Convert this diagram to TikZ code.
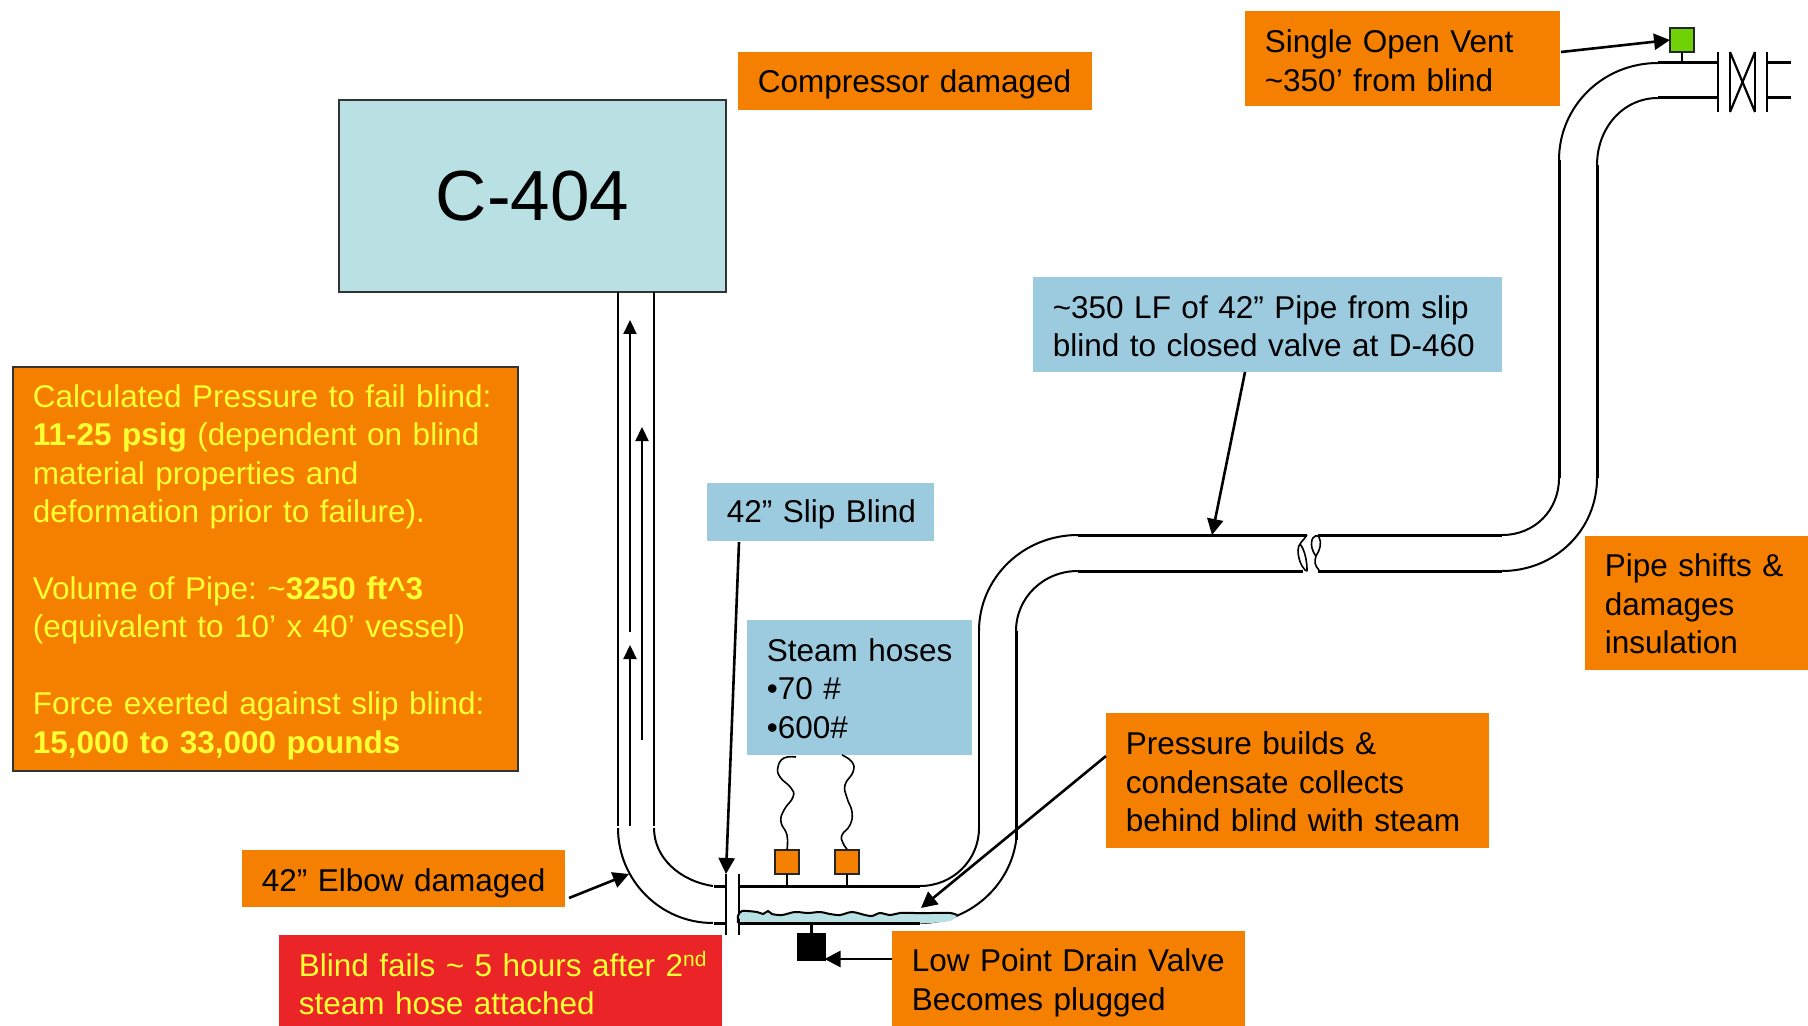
\documentclass[tikz,border=0pt]{standalone}
\usepackage{fontspec}
\setmainfont{Liberation Sans}
\usetikzlibrary{arrows.meta,calc}
\definecolor{oran}{HTML}{F58000}
\definecolor{skyb}{HTML}{9CCBE0}
\definecolor{teal2}{HTML}{B9E0E3}
\definecolor{redb}{HTML}{EB2427}
\definecolor{yell}{HTML}{FFFF33}
\definecolor{gree}{HTML}{6FD207}
\newcommand{\toppad}[1]{\rule{0pt}{#1pt}}
\tikzset{
  lbl/.style={inner xsep=0pt,inner ysep=0pt,outer sep=0pt,anchor=north west,
     font=\fontsize{15.75}{19.2}\selectfont,
     execute at begin node={\frenchspacing\raggedright\leftskip=9.9pt\relax\rightskip=0pt plus 1fil\relax\hyphenpenalty=10000\relax}},
  obox/.style={lbl,fill=oran},
  bbox/.style={lbl,fill=skyb},
  rbox/.style={lbl,fill=redb,text=yell},
  pipe/.style={line width=1pt,black},
  pipeh/.style={line width=1.5pt,black},
  thinp/.style={line width=1.1pt,black},
  arr/.style={line width=1.3pt,black,-{Triangle[length=8pt,width=8pt]}},
  arrs/.style={line width=1.1pt,black,-{Triangle[length=7pt,width=6.5pt]}},
  hose/.style={line width=0.8pt,black},
  sq/.style={draw=black!85,line width=1.2pt,inner sep=0pt,outer sep=0pt,minimum size=12pt,anchor=north west},
}
\newcommand{\bx}[7]{%
  \pgfmathsetmacro\bw{(#4-#2)*0.5}%
  \pgfmathsetmacro\bh{(#5-#3)*0.5}%
  \node[#6,minimum height=\bh pt,text width=\bw pt] (#1) at (#2,#3) {#7};%
}
\begin{document}
\begin{tikzpicture}[x=0.5pt,y=-0.5pt]
\useasboundingbox (0,0) rectangle (1808,1026);
% boxes
\node[draw=black!80,line width=1pt,fill=teal2,minimum width=193.5pt,minimum height=96pt,outer sep=0pt,anchor=north west,font=\fontsize{35.5}{40}\selectfont] (comp) at (339,100) {\raisebox{-2pt}{C-404}};
\bx{cdam}{738}{52}{1092}{110}{obox}{\toppad{15}Compressor damaged}
\bx{vent}{1245}{11}{1560}{106}{obox}{\toppad{13.5}Single Open Vent\\\textasciitilde350’ from blind}
\bx{lf}{1033}{277}{1502}{372}{bbox}{\toppad{13}\textasciitilde350 LF of 42” Pipe from slip\\blind to closed valve at D-460}
\bx{slip}{707}{483}{934}{541}{bbox}{\toppad{14}42” Slip Blind}
\bx{steam}{747}{620}{972}{755}{bbox}{\toppad{12.6}Steam hoses\\•70 \#\\•600\#}
\bx{calc}{13}{367}{518}{771}{obox,draw=black!80,line width=1pt,text=yell}{\toppad{14.5}Calculated Pressure to fail blind:\\\textbf{11-25 psig} (dependent on blind\\material properties and\\deformation prior to failure).\\[19.2pt]Volume of Pipe: \textasciitilde\textbf{3250 ft\textasciicircum3}\\(equivalent to 10’ x 40’ vessel)\\[19.2pt]Force exerted against slip blind:\\\textbf{15,000 to 33,000 pounds}}
\bx{elb}{242}{850}{565}{907}{obox}{\toppad{16}42” Elbow damaged}
\bx{fail}{279}{935}{722}{1026}{rbox}{\toppad{15}Blind fails \textasciitilde{} 5 hours after 2\raisebox{0.6ex}{\fontsize{10.5}{12}\selectfont nd}\\steam hose attached}
\bx{low}{892}{931}{1245}{1026}{obox}{\toppad{15.6}Low Point Drain Valve\\Becomes plugged}
\bx{press}{1106}{713}{1489}{848}{obox}{\toppad{13}Pressure builds \&\\condensate collects\\behind blind with steam}
\bx{shift}{1585}{536}{1808}{670}{obox}{\toppad{12.4}Pipe shifts \&\\damages\\insulation}
% small squares
\node[sq,fill=gree] (vs) at (1670,28) {};
\node[sq,fill=oran] (h1) at (775,850) {};
\node[sq,fill=oran] (h2) at (835,850) {};
\node[sq,fill=black,draw=black,minimum size=13pt] (dr) at (798.5,934) {};
% coordinates
\coordinate (b1t) at (726,874); \coordinate (b1b) at (726,935);
\coordinate (b2t) at (739,874); \coordinate (b2b) at (739,935);
\coordinate (wat) at (921,908);
% left riser
\draw[thinp] (618,292) -- (618,826);
\draw[thinp] (654,292) -- (654,826);
\draw[pipe] (618,828) .. controls (618,880) and (660,923) .. (713,923);
\draw[pipe] (654,828) .. controls (654,858) and (680,881) .. (713,886);
\draw[pipeh] (714,886) -- (726,886) (714,923) -- (726,923);
% blind
\draw[thinp] (b1t) -- (b1b);
\draw[thinp] (b2t) -- (b2b);
% bottom run
\draw[pipeh] (739,886) -- (920,886);
\draw[pipeh] (739,923) -- (920,923);
\draw[pipe] (920,886) .. controls (953,886) and (979,860) .. (979,828);
\draw[pipe] (920,923) .. controls (973,923) and (1017,880) .. (1017,828);
\draw[pipe] (979,828) -- (979,631);
\draw[pipeh] (1016,840) -- (1016,631);
% middle elbow
\draw[pipe] (979,631) .. controls (979,578) and (1023,535) .. (1078,535);
\draw[pipe] (1016,631) .. controls (1016,598) and (1043,571) .. (1078,571);
\draw[pipeh] (1078,535) -- (1307,535);
\draw[pipeh] (1078,571) -- (1303,571);
\draw[pipeh] (1318,535) -- (1502,535);
\draw[pipeh] (1318,571) -- (1502,571);
% break
\draw[hose] (1307,535) .. controls (1303,541) and (1298,544) .. (1298,550) .. controls (1298,558) and (1301,566) .. (1305,570) .. controls (1307,571) and (1307,571) .. (1307,570) .. controls (1307,562) and (1305,550) .. (1300,544);
\draw[hose] (1319,570) .. controls (1315,566) and (1314,562) .. (1316,556) .. controls (1320,550) and (1322,543) .. (1319,537) .. controls (1314,533) and (1310,540) .. (1312,548) .. controls (1313,552) and (1315,555) .. (1316,556);
% right elbow
\draw[pipe] (1502,535) .. controls (1535,535) and (1559,510) .. (1559,478);
\draw[pipe] (1502,571) .. controls (1555,571) and (1597,530) .. (1597,478);
\draw[pipeh] (1559,478) -- (1559,160);
\draw[pipeh] (1597,478) -- (1597,165);
% top elbow
\draw[pipe] (1559,160) .. controls (1559,106) and (1603,63) .. (1658,63);
\draw[pipe] (1597,165) .. controls (1597,128) and (1623,98) .. (1658,98);
\draw[pipeh] (1658,63) -- (1717,63);
\draw[pipeh] (1658,98) -- (1717,98);
% valve
\draw[thinp] (1718,52) -- (1718,112);
\draw[thinp] (1730,52) -- (1730,112);
\draw[thinp] (1755,52) -- (1755,112);
\draw[thinp] (1730,52) -- (1755,112);
\draw[thinp] (1755,52) -- (1730,112);
\draw[thinp] (1767,52) -- (1767,112);
\draw[pipeh] (1768,63) -- (1791,63);
\draw[pipeh] (1768,98) -- (1791,98);
% stems
\draw[thinp] (vs.south) -- (vs.south |- 0,63);
\draw[thinp] (h1.south) -- (h1.south |- 0,886);
\draw[thinp] (h2.south) -- (h2.south |- 0,886);
\draw[thinp] (dr.north) -- (dr.north |- 0,923);
% inner flow arrows
\coordinate (fa1) at (630,826); \coordinate (fa1e) at (630,645);
\coordinate (fa2) at (630,632); \coordinate (fa2e) at (630,320);
\coordinate (fa3) at (642,740); \coordinate (fa3e) at (642,427);
\draw[arrs] (fa1) -- (fa1e);
\draw[arrs] (fa2) -- (fa2e);
\draw[arrs] (fa3) -- (fa3e);
% hoses
\draw[hose] plot[smooth,tension=0.8] coordinates {(796,757) (784,758) (778,767) (780,777) (791,788) (793,797) (784,810) (781,822) (787,835) (787,850)};
\draw[hose] plot[smooth,tension=0.8] coordinates {(842,755) (852,762) (853,772) (845,785) (847,798) (852,812) (850,825) (842,835) (843,843) (847,849)};
% water
\fill[teal2] plot[smooth,tension=0.5] coordinates {(738,916) (742,911) (757,912) (763,914) (768,911) (772,914) (782,915) (795,912) (808,913) (820,912) (830,914) (840,915) (852,912) (865,915) (872,916) (880,913) (890,915) (900,913) (915,913) (930,913) (950,913) (957,915) (950,921) (930,923) (900,924) (800,924) (742,923)} -- cycle;
\draw[line width=1pt] plot[smooth,tension=0.5] coordinates {(738,923) (738,916) (742,911) (757,912) (763,914) (768,911) (772,914) (782,915) (795,912) (808,913) (820,912) (830,914) (840,915) (852,912) (865,915) (872,916) (880,913) (890,915) (900,913) (915,913) (930,913) (950,913) (957,915)};
\draw[pipeh] (739,923) -- (920,923);
% callout arrows
\coordinate (va) at (1561,52);
\draw[arr] (va) -- (vs.west);
\coordinate (lfa) at (1245,372); \coordinate (lfb) at (1212,535);
\draw[arr] (lfa) -- (lfb);
\coordinate (sla) at (739,542);
\draw[arr] (sla) -- (b1t);
\coordinate (ela) at (569,898); \coordinate (elb2) at (629,874);
\draw[arr] (ela) -- (elb2);
\coordinate (pra) at (1106,756);
\draw[arr] (pra) -- (wat);
\coordinate (loa) at (892,959);
\draw[arr] (loa) -- (loa -| dr.east);
\end{tikzpicture}
\end{document}
